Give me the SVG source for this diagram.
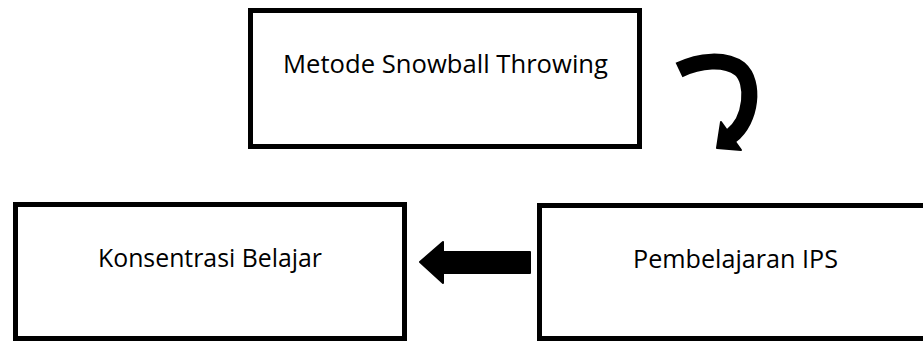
<svg xmlns="http://www.w3.org/2000/svg" width="923" height="342" viewBox="0 0 923 342">
  <style>
    .box { fill: #ffffff; stroke: #000000; stroke-width: 5; }
    .label { font-family: "Open Sans", "Noto Sans", sans-serif; font-size: 26px; fill: #000000; text-anchor: middle; }
    .arrow { fill: #000000; stroke: #000000; stroke-linejoin: round; stroke-width: 2; }
    .bend { fill: none; stroke: #000000; stroke-width: 16; stroke-linecap: butt; }
  </style>
  <rect width="923" height="342" fill="#ffffff"/>

  <g id="node-metode">
    <rect class="box" x="250.5" y="10.5" width="389" height="136"/>
    <text class="label" x="445.5" y="73" textLength="325" lengthAdjust="spacingAndGlyphs">Metode Snowball Throwing</text>
  </g>

  <g id="node-konsentrasi">
    <rect class="box" x="15.5" y="204.5" width="389" height="134"/>
    <text class="label" x="210" y="267" textLength="224" lengthAdjust="spacingAndGlyphs">Konsentrasi Belajar</text>
  </g>

  <g id="node-pembelajaran">
    <rect class="box" x="539.5" y="205.5" width="420" height="133"/>
    <text class="label" x="735.5" y="268" textLength="205" lengthAdjust="spacingAndGlyphs">Pembelajaran IPS</text>
  </g>

  <g id="connectors">
    <!-- curved block arrow from the method box down to the learning box -->
    <path class="bend" d="M679,70 C700,60 725,58 740,69 C755,82 752,120 731,136"/>
    <polygon class="arrow" points="721,122 741,150 717,148"/>
    <!-- block arrow from the learning box to the concentration box -->
    <polygon class="arrow" points="420,262 443,242 443,252 530,252 530,273 443,273 443,283"/>
  </g>
</svg>
